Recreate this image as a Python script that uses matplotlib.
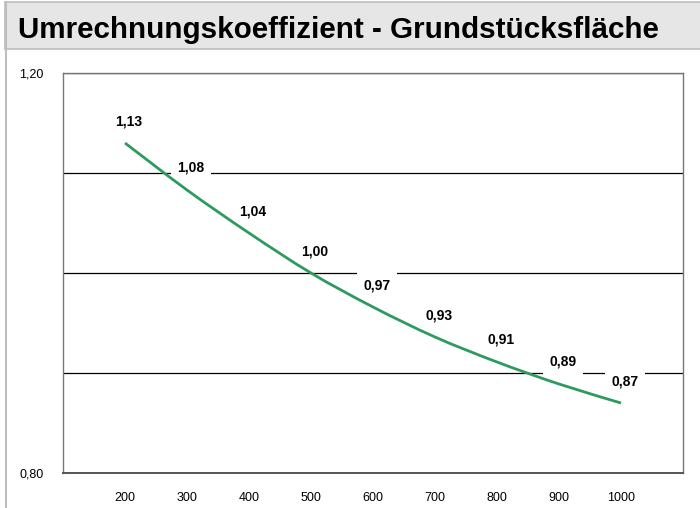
import matplotlib
matplotlib.use("Agg")
import matplotlib.pyplot as plt
from matplotlib.patches import Rectangle, PathPatch
from matplotlib.lines import Line2D
from matplotlib.path import Path

plt.rcParams['font.family'] = ['Liberation Sans', 'DejaVu Sans']

# data
flaeche = [200, 300, 400, 500, 600, 700, 800, 900, 1000]
koeff = [1.13, 1.083, 1.040, 1.00, 0.966, 0.936, 0.911, 0.889, 0.87]
koeff_labels = ['1,13', '1,08', '1,04', '1,00', '0,97', '0,93', '0,91', '0,89', '0,87']
y_ticks = [0.80, 0.90, 1.00, 1.10, 1.20]
y_ticklabels = ['0,80', '', '', '', '1,20']
title = 'Umrechnungskoeffizient - Grundstücksfläche'


def smooth_path(xs, ys):
    # smoothed line like the spreadsheet one: cubic bezier segments (catmull-rom)
    pts = list(zip(xs, ys))
    verts = [pts[0]]
    codes = [Path.MOVETO]
    n = len(pts)
    for i in range(n - 1):
        p0 = pts[max(i - 1, 0)]
        p1 = pts[i]
        p2 = pts[i + 1]
        p3 = pts[min(i + 2, n - 1)]
        c1 = (p1[0] + (p2[0] - p0[0]) / 6, p1[1] + (p2[1] - p0[1]) / 6)
        c2 = (p2[0] - (p3[0] - p1[0]) / 6, p2[1] - (p3[1] - p1[1]) / 6)
        verts += [c1, c2, p2]
        codes += [Path.CURVE4] * 3
    return Path(verts, codes)


W, H = 700, 508
fig = plt.figure(figsize=(W / 100, H / 100), dpi=100)

# header band
fig.patches.append(Rectangle((5 / W, 1 - 49 / H), 1, 47 / H, transform=fig.transFigure,
                             facecolor='#e6e6e6', edgecolor='#bdbdbd', lw=1.2, zorder=0))
fig.lines.append(Line2D([5.5 / W, 5.5 / W], [0, 1 - 2 / H], transform=fig.transFigure,
                        color='#bdbdbd', lw=1.5))
fig.text(18 / W, 1 - 30 / H, title, fontsize=21.3, fontweight='bold', va='center', ha='left')

ax = fig.add_axes([63 / W, 1 - 473 / H, 620 / W, 400 / H])
ax.set_xlim(100, 1100)
ax.set_ylim(0.80, 1.20)

ax.set_yticks(y_ticks)
ax.set_yticklabels(y_ticklabels, fontsize=9)
ax.set_xticks(flaeche)
ax.set_xticklabels([str(v) for v in flaeche], fontsize=9)
ax.tick_params(length=0)
ax.tick_params(axis='x', pad=14)
ax.tick_params(axis='y', pad=14)
ax.yaxis.grid(True, color='black', lw=0.9, zorder=1)
ax.set_axisbelow(True)

for s in ['top', 'right', 'left']:
    ax.spines[s].set_color('#777777')
    ax.spines[s].set_linewidth(1.0)
ax.spines['bottom'].set_color('#555555')
ax.spines['bottom'].set_linewidth(1.4)

ax.add_patch(PathPatch(smooth_path(flaeche, koeff), facecolor='none', edgecolor='#2e9a5e',
                       lw=2.0, zorder=5, capstyle='butt'))

for x, y, lab in zip(flaeche, koeff, koeff_labels):
    ax.annotate(lab, (x, y), xytext=(4, 22), textcoords='offset pixels',
                ha='center', va='center', fontsize=10, fontweight='bold', zorder=4,
                bbox=dict(boxstyle='square,pad=0.45', facecolor='white', edgecolor='none'))

fig.savefig('out.png', dpi=100)
